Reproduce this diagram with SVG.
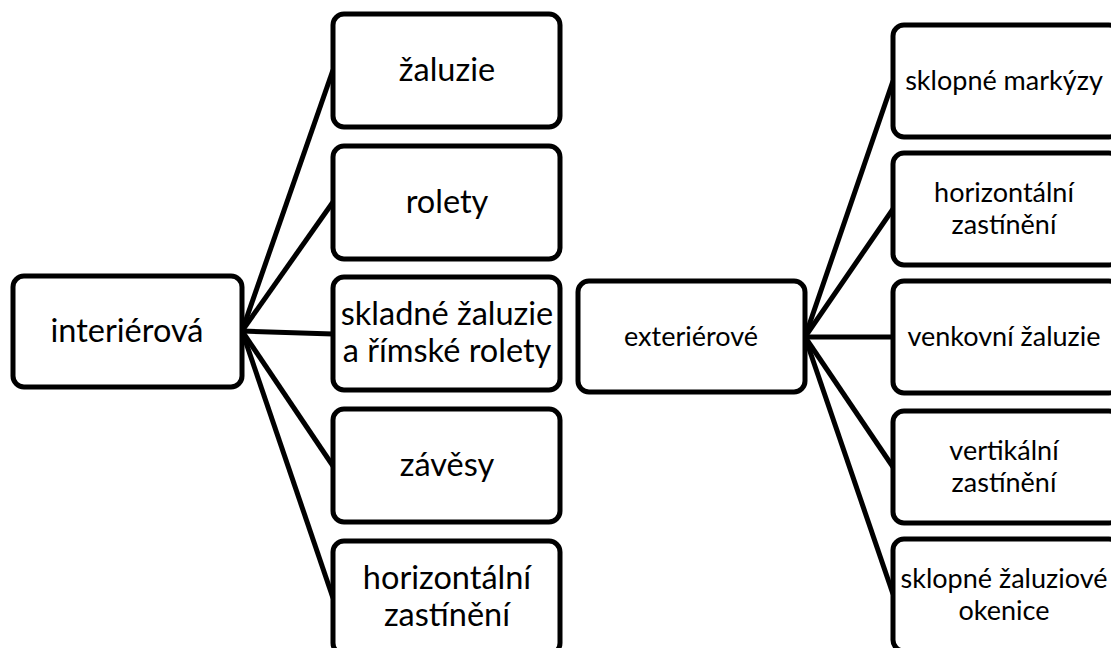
<svg xmlns="http://www.w3.org/2000/svg" width="1111" height="648" viewBox="0 0 1111 648">
<style>
.box{fill:#fff;stroke:#000;stroke-width:5}
.c{stroke:#000;stroke-width:5;fill:none}
.tl{font-family:Lato,"Open Sans","Liberation Sans",sans-serif;font-size:32.5px;text-anchor:middle;fill:#000}
.tr{font-family:Lato,"Open Sans","Liberation Sans",sans-serif;font-size:27px;text-anchor:middle;fill:#000}
</style>
<rect width="1111" height="648" fill="#fff"/>
<g id="connectors">
<line class="c" x1="242" y1="331" x2="333" y2="70"/>
<line class="c" x1="242" y1="331" x2="333" y2="202"/>
<line class="c" x1="242" y1="331" x2="333" y2="334"/>
<line class="c" x1="242" y1="331" x2="333" y2="466"/>
<line class="c" x1="242" y1="331" x2="333" y2="598"/>
<line class="c" x1="805" y1="337" x2="893" y2="81"/>
<line class="c" x1="805" y1="337" x2="893" y2="209"/>
<line class="c" x1="805" y1="337" x2="893" y2="337"/>
<line class="c" x1="805" y1="337" x2="893" y2="467"/>
<line class="c" x1="805" y1="337" x2="893" y2="594"/>
</g>
<g id="interierova"><rect class="box" x="13" y="276" width="229" height="111" rx="11"/><text class="tl" x="127" y="342">interiérová</text></g>
<g id="zaluzie"><rect class="box" x="333" y="14" width="227" height="113" rx="11"/><text class="tl" x="447" y="81">žaluzie</text></g>
<g id="rolety"><rect class="box" x="333" y="146" width="227" height="113" rx="11"/><text class="tl" x="447" y="213">rolety</text></g>
<g id="skladne"><rect class="box" x="333" y="277" width="227" height="113" rx="11"/><text class="tl" x="447" y="325">skladné žaluzie</text><text class="tl" x="447" y="362">a římské rolety</text></g>
<g id="zavesy"><rect class="box" x="333" y="409" width="227" height="113" rx="11"/><text class="tl" x="447" y="476">závěsy</text></g>
<g id="horiz-int"><rect class="box" x="333" y="541" width="227" height="113" rx="11"/><text class="tl" x="447" y="589">horizontální</text><text class="tl" x="447" y="626">zastínění</text></g>
<g id="exterierove"><rect class="box" x="578" y="281" width="227" height="111" rx="11"/><text class="tr" x="691" y="346">exteriérové</text></g>
<g id="markyzy"><rect class="box" x="893" y="25" width="227" height="112" rx="11"/><text class="tr" x="1004" y="90">sklopné markýzy</text></g>
<g id="horiz-ext"><rect class="box" x="893" y="153" width="227" height="112" rx="11"/><text class="tr" x="1004" y="202">horizontální</text><text class="tr" x="1004" y="234">zastínění</text></g>
<g id="venkovni"><rect class="box" x="893" y="281" width="227" height="112" rx="11"/><text class="tr" x="1004" y="346">venkovní žaluzie</text></g>
<g id="vertikalni"><rect class="box" x="893" y="411" width="227" height="112" rx="11"/><text class="tr" x="1004" y="460">vertikální</text><text class="tr" x="1004" y="492">zastínění</text></g>
<g id="okenice"><rect class="box" x="893" y="539" width="227" height="112" rx="11"/><text class="tr" x="1004" y="588">sklopné žaluziové</text><text class="tr" x="1004" y="620">okenice</text></g>
</svg>
